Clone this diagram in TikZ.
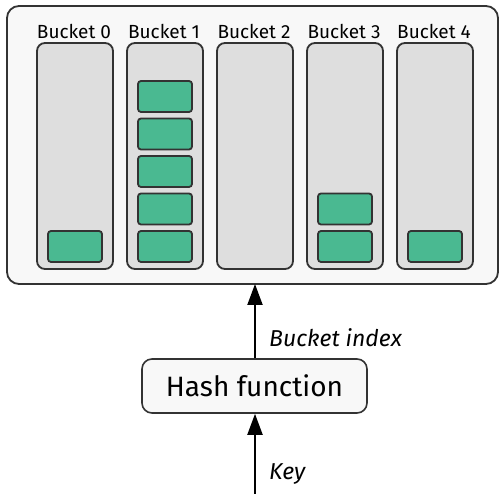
\documentclass[tikz,border=0pt]{standalone}
\usepackage{fontspec}
\setmainfont{Fira Sans}
\usetikzlibrary{arrows.meta}
\definecolor{strokec}{HTML}{333333}
\definecolor{outerfill}{HTML}{F8F8F8}
\definecolor{bucketfill}{HTML}{DEDEDE}
\definecolor{itemfill}{HTML}{4AB991}
\tikzset{
  px/.style={x=1pt,y=-1pt},
  table/.style={draw=strokec, line width=1.8pt, fill=outerfill, rounded corners=12pt},
  bucketbox/.style={draw=strokec, line width=1.8pt, fill=bucketfill, rounded corners=8pt},
  entry/.style={draw=strokec, line width=1.8pt, fill=itemfill, rounded corners=3pt},
  blabel/.style={font=\fontsize{19}{21}\selectfont, inner sep=0pt, anchor=center},
  hashbox/.style={draw=strokec, line width=1.6pt, fill=outerfill, rounded corners=10pt, minimum width=225pt, minimum height=54pt, inner sep=0pt, font=\fontsize{28}{32}\selectfont},
  flow/.style={line width=2pt, -{Triangle[width=15pt,length=21pt]}},
  flowlabel/.style={font=\fontsize{23}{26}\selectfont\itshape, inner sep=0pt, anchor=base west}
}
\begin{document}
\begin{tikzpicture}[px]
\useasboundingbox (0,0) rectangle (499,494);
% outer table
\draw[table] (7,6) rectangle (498,284);
\coordinate (tablebottom) at (255,284);
% buckets
\foreach \i in {0,...,4} {
  \pgfmathsetmacro{\xl}{37+90*\i}
  \draw[bucketbox] (\xl,43) rectangle ++(76,226);
  \node[blabel] (lab\i) at (\xl+37,31) {Bucket \i};
}
% entries: bucket index / slot from bottom
\foreach \b/\s in {0/0, 1/0, 1/1, 1/2, 1/3, 1/4, 3/0, 3/1, 4/0} {
  \pgfmathsetmacro{\xl}{48+90*\b}
  \pgfmathsetmacro{\yt}{231-37.5*\s}
  \draw[entry] (\xl,\yt) rectangle ++(54,31);
}
% hash function and arrows
\node[hashbox] (hash) at (254.5,386) {Hash function};
\coordinate (keyin) at (255,494);
\draw[flow] (hash.north -| tablebottom) -- (tablebottom);
\draw[flow] (keyin) -- (hash.south -| keyin);
\node[flowlabel] (idx) at (269,347) {Bucket index};
\node[flowlabel] (key) at (269,480) {Key};
\end{tikzpicture}
\end{document}
